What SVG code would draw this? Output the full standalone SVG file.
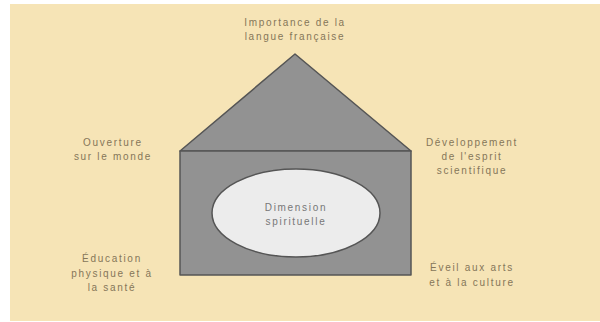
<svg xmlns="http://www.w3.org/2000/svg" width="600" height="322" viewBox="0 0 600 322">
<style>
.lbl{font-family:"Liberation Sans",Arial,sans-serif;font-size:10px;fill:#857659;text-anchor:middle;letter-spacing:1.7px}
.in{fill:#777777}
.house{fill:#929292;stroke:#555;stroke-width:1.5;stroke-linejoin:round}
</style>
<rect x="0" y="0" width="600" height="322" fill="#ffffff"/>
<rect x="10" y="4" width="590" height="317" fill="#f6e4b6"/>
<g id="roof"><polygon class="house" points="180,151 295,54 411,151"/></g>
<g id="body"><rect class="house" x="180" y="151" width="231" height="124"/></g>
<g id="center">
<ellipse cx="296" cy="213" rx="84" ry="44" fill="#ececec" stroke="#555" stroke-width="1.5"/>
<text class="lbl in" x="296" y="211">Dimension</text>
<text class="lbl in" x="296" y="225">spirituelle</text>
</g>
<g id="top"><text class="lbl" x="295" y="26">Importance de la</text><text class="lbl" x="295" y="40">langue française</text></g>
<g id="left-top"><text class="lbl" x="113" y="146">Ouverture</text><text class="lbl" x="113" y="160">sur le monde</text></g>
<g id="right-top"><text class="lbl" x="472" y="146">Développement</text><text class="lbl" x="472" y="160">de l'esprit</text><text class="lbl" x="472" y="174">scientifique</text></g>
<g id="left-bottom"><text class="lbl" x="112" y="262">Éducation</text><text class="lbl" x="112" y="277">physique et à</text><text class="lbl" x="112" y="291">la santé</text></g>
<g id="right-bottom"><text class="lbl" x="472" y="271">Éveil aux arts</text><text class="lbl" x="472" y="286">et à la culture</text></g>
<g id="connectors"/>
</svg>
